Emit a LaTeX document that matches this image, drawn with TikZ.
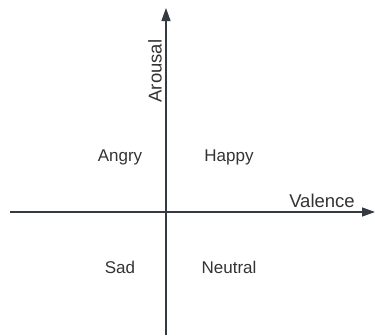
\documentclass[tikz,border=0pt]{standalone}
\usepackage{fontspec}
\setmainfont{Liberation Sans}
\usetikzlibrary{arrows.meta}
\definecolor{axisgray}{RGB}{52,58,68}
\definecolor{textgray}{RGB}{51,51,51}

\begin{document}
\begin{tikzpicture}[x=1pt, y=-1pt,
    axis/.style={draw=axisgray, line width=1.4pt, -{Triangle[length=13pt,width=9pt]}},
    lbl/.style={text=textgray, font=\fontsize{17}{20}\selectfont, inner sep=0pt},
    axislbl/.style={lbl, font=\fontsize{18.5}{22}\selectfont}]
    \useasboundingbox (0,0) rectangle (375,335);
    \coordinate (xstart) at (10,212);
    \coordinate (xend) at (375,212);
    \coordinate (ystart) at (166,335);
    \coordinate (yend) at (166,8);
    \draw[axis] (xstart) -- (xend);
    \draw[axis] (ystart) -- (yend);
    \node[axislbl, rotate=90] (arousal) at (155,71) {Arousal};
    \node[axislbl] (valence) at (322,201) {Valence};
    \node[lbl] (angry) at (120,157) {Angry};
    \node[lbl] (happy) at (229,157) {Happy};
    \node[lbl] (sad) at (120,267) {Sad};
    \node[lbl] (neutral) at (229,267) {Neutral};
\end{tikzpicture}
\end{document}
